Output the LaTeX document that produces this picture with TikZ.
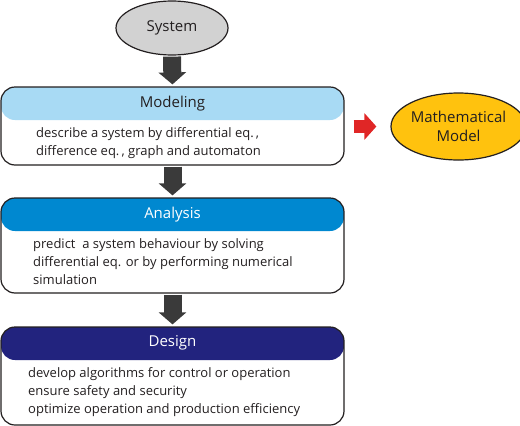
\documentclass[tikz,border=0pt]{standalone}
\usepackage{fontspec}
\setmainfont{Open Sans}
\usetikzlibrary{shapes.geometric,arrows.meta}
\definecolor{hdrA}{HTML}{A8DAF4}
\definecolor{hdrB}{HTML}{0088D0}
\definecolor{hdrC}{HTML}{22237E}
\definecolor{arrowgray}{HTML}{3A3A3A}
\definecolor{redarrow}{HTML}{E02626}
\definecolor{gold}{HTML}{FFC20E}
\definecolor{sysgray}{HTML}{D2D2D2}
\definecolor{ink}{HTML}{231F20}
\tikzset{
  stagebox/.style 2 args={rectangle, draw=ink, line width=1.2pt, rounded corners=14pt,
    fill=white, minimum width=343pt, minimum height=#1, inner sep=0pt,
    path picture={\fill[#2] (path picture bounding box.north west) rectangle
      ([yshift=-33pt]path picture bounding box.north east);}},
  headtext/.style={font=\fontsize{15}{18}\selectfont, inner sep=0pt},
  bodytext/.style={font=\fontsize{13}{18}\selectfont, text=ink, align=left, anchor=north west, inner sep=0pt},
  bigarrow/.style={draw=arrowgray, line width=18pt, -{Triangle[length=12pt,width=27pt,fill=arrowgray]}},
  redarr/.style={draw=redarrow, line width=13pt, -{Triangle[length=12pt,width=26pt,fill=redarrow]}},
  oval/.style={ellipse, draw=ink, line width=1.2pt, inner sep=0pt, font=\fontsize{15}{19}\selectfont, align=center, text=ink}
}
\begin{document}
\begin{tikzpicture}[x=1pt,y=-1pt]
\useasboundingbox (0,0) rectangle (520,426);
% stage boxes
\node[stagebox={78pt}{hdrA}] (modeling) at (172.5,126) {};
\node[stagebox={95pt}{hdrB}] (analysis) at (172.5,245.5) {};
\node[stagebox={98pt}{hdrC}] (design) at (172.5,376) {};
% ellipses
\node[oval, fill=sysgray, minimum width=112pt, minimum height=54pt] (system) at (172,28) {System};
\node[oval, fill=gold, minimum width=121pt, minimum height=67pt] (mathmodel) at (458.5,126.5) {Mathematical\\Model};
% headers
\node[headtext, text=ink] (modhead) at (172.5,103.5) {Modeling};
\node[headtext, text=white] (anahead) at (172.5,215) {Analysis};
\node[headtext, text=white] (deshead) at (172.5,342.5) {Design};
% bodies
\node[bodytext] (modbody) at (36,127.5) {describe a system by differential eq.\,,\\difference eq.\,, graph and automaton};
\node[bodytext] (anabody) at (33,238.5) {predict\ \ a system behaviour by solving\\differential eq. or by performing numerical\\simulation};
\node[bodytext] (desbody) at (28,367.5) {develop algorithms for control or operation\\ensure safety and security\\optimize operation and production efficiency};
% arrows
\draw[bigarrow, shorten <=1pt, shorten >=2pt] (system.south) -- (modeling.north);
\draw[bigarrow, shorten <=1pt, shorten >=2pt] (modeling.south) -- (analysis.north);
\draw[bigarrow, shorten <=1pt, shorten >=2pt] (analysis.south) -- (design.north);
\draw[redarr, shorten <=9pt, shorten >=14pt] (modeling.east |- mathmodel.west) -- (mathmodel.west);
\end{tikzpicture}
\end{document}
